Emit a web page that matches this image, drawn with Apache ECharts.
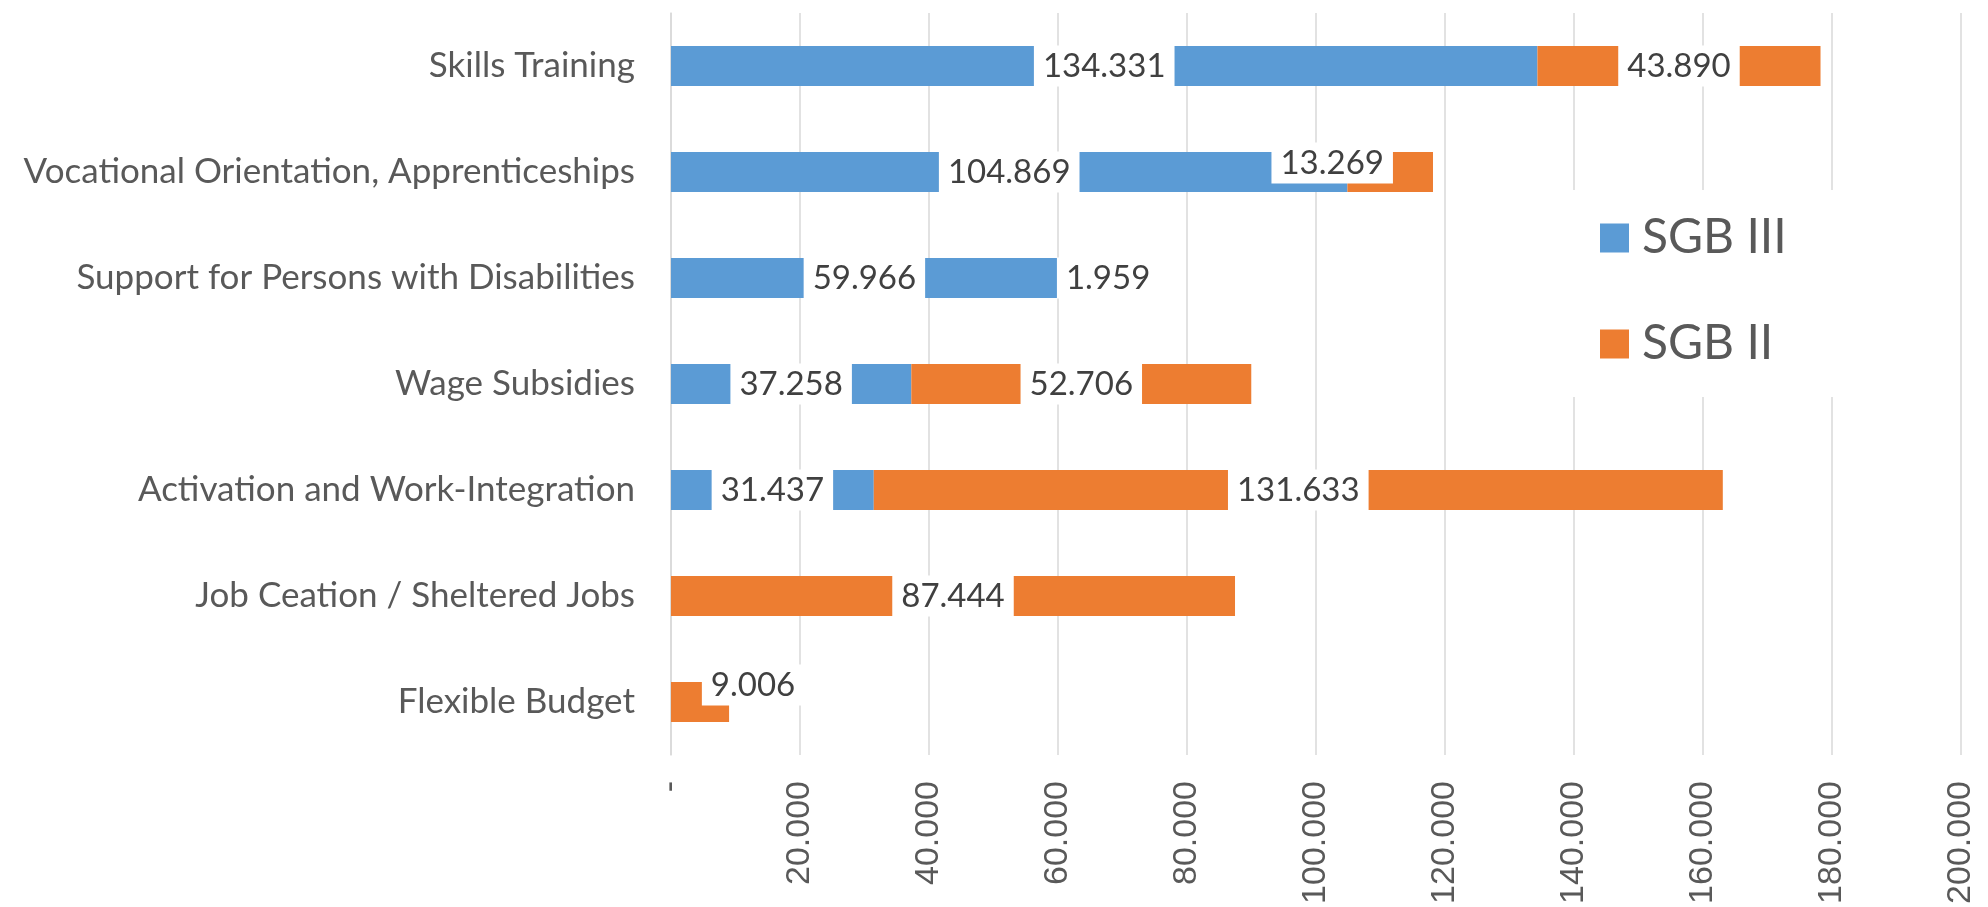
<!DOCTYPE html>
<html>
<head>
<meta charset="utf-8">
<script src="https://cdn.jsdelivr.net/npm/echarts@6/dist/echarts.min.js"></script>
<style>
  html, body { margin: 0; padding: 0; background: #fff; }
  #chart { width: 1988px; height: 907px; }
</style>
</head>
<body>
<div id="chart"></div>
<script>
// Spending per instrument, in thousands of euros
const categories = [
  'Skills Training',
  'Vocational Orientation, Apprenticeships',
  'Support for Persons with Disabilities',
  'Wage Subsidies',
  'Activation and Work-Integration',
  'Job Ceation / Sheltered Jobs',
  'Flexible Budget'
];
const sgb3Values = [134331, 104869, 59966, 37258, 31437, 0, 0];
const sgb2Values = [43890, 13269, 1959, 52706, 131633, 87444, 9006];
const seriesNames = ['SGB III', 'SGB II'];
const axisMin = 0;
const axisMax = 200000;
const axisStep = 20000;

const BLUE = '#5B9BD5';
const ORANGE = '#ED7D31';
const TEXT = '#595959';
const LABEL_FONT = 'Lato, "Open Sans", sans-serif';

// Thousands separator as a dot, zero shown as a dash
function fmt(v) {
  if (v === 0) return '-';
  return String(v).replace(/\B(?=(\d{3})+(?!\d))/g, '.');
}

// Labels that sit beside tiny segments are nudged clear of the bar
const sgb2LabelOffsets = { 1: [-58, -9], 2: [44, 0], 6: [53, -17] };

function buildData(values, offsets) {
  return values.map((v, i) => {
    const item = { value: v, label: { show: v > 0 } };
    if (offsets && offsets[i]) item.label.offset = offsets[i];
    return item;
  });
}

const valueLabel = {
  show: true,
  position: 'inside',
  formatter: p => fmt(p.value),
  color: '#404040',
  fontFamily: LABEL_FONT,
  fontSize: 33,
  lineHeight: 41,
  backgroundColor: '#ffffff',
  padding: [0, 9]
};

const chart = echarts.init(document.getElementById('chart'), null, { renderer: 'canvas' });
chart.setOption({
  animation: false,
  backgroundColor: '#ffffff',
  grid: { left: 671, right: 27, top: 13, bottom: 152, containLabel: false },
  legend: {
    orient: 'vertical',
    left: 1450,
    top: 190,
    padding: [20, 170, 25, 150],
    backgroundColor: '#ffffff',
    itemWidth: 29,
    itemHeight: 29,
    itemGap: 50,
    icon: 'rect',
    data: seriesNames,
    textStyle: {
      color: TEXT,
      fontFamily: LABEL_FONT,
      fontSize: 48,
      lineHeight: 56,
      padding: [0, 0, 0, 8]
    }
  },
  xAxis: {
    type: 'value',
    min: axisMin,
    max: axisMax,
    interval: axisStep,
    axisLine: { show: false },
    axisTick: { show: false },
    splitLine: { show: true, lineStyle: { color: '#d9d9d9', width: 1.5 } },
    axisLabel: {
      rotate: 90,
      margin: 26,
      formatter: v => fmt(v),
      color: TEXT,
      fontFamily: '"Liberation Sans", Arial, sans-serif',
      fontSize: 34
    }
  },
  yAxis: {
    type: 'category',
    inverse: true,
    data: categories,
    axisLine: { show: true, lineStyle: { color: '#d9d9d9', width: 1.5 } },
    axisTick: { show: false },
    axisLabel: {
      margin: 36,
      color: TEXT,
      fontFamily: LABEL_FONT,
      fontSize: 35
    }
  },
  series: [
    {
      name: seriesNames[0],
      type: 'bar',
      stack: 'total',
      barWidth: 40,
      itemStyle: { color: BLUE },
      label: valueLabel,
      data: buildData(sgb3Values)
    },
    {
      name: seriesNames[1],
      type: 'bar',
      stack: 'total',
      barWidth: 40,
      itemStyle: { color: ORANGE },
      label: valueLabel,
      data: buildData(sgb2Values, sgb2LabelOffsets)
    }
  ]
});
</script>
</body>
</html>
